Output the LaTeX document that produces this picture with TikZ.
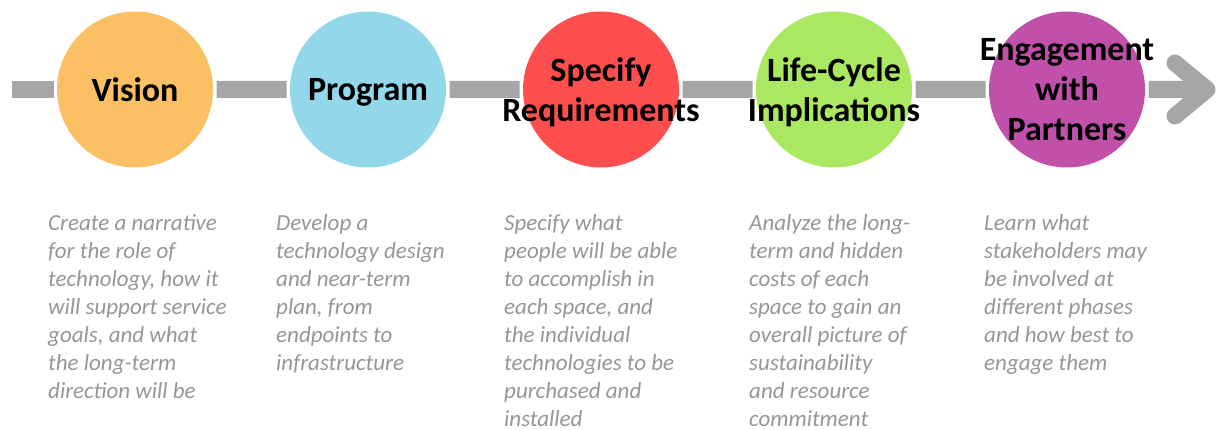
\documentclass[tikz,border=0pt]{standalone}
\usepackage{fontspec}
\setmainfont{Carlito}
\definecolor{visionorange}{RGB}{251,192,99}
\definecolor{programblue}{RGB}{147,215,234}
\definecolor{specifyred}{RGB}{254,78,78}
\definecolor{lifegreen}{RGB}{171,232,98}
\definecolor{engagepurple}{RGB}{192,80,170}
\definecolor{linegray}{RGB}{166,166,166}
\definecolor{textgray}{RGB}{150,150,150}

\begin{document}
\begin{tikzpicture}[
    x=1pt, y=1pt,
    grow=right,
    level distance=233pt,
    edge from parent/.style={draw=linegray, line width=17pt,
        shorten >=3.5pt, shorten <=3.5pt},
    edge from parent path={(\tikzparentnode.east) -- (\tikzchildnode.west)},
    flowline/.style={draw=linegray, line width=17pt},
    stage/.style={circle, minimum size=156pt, inner sep=0pt, outer sep=0pt},
    stagetext/.style={align=center, inner sep=0pt, text=black, text depth=0pt,
        font=\fontsize{34}{40}\selectfont\bfseries},
    note/.style={anchor=north west, inner sep=0pt, align=left, text=textgray,
        font=\fontsize{23}{28}\selectfont\itshape}
    ]
\useasboundingbox (0,0) rectangle (1219,-430);

\node[stage, fill=visionorange, label={[stagetext]center:Vision}]
    (vision) at (135,-89.5) {}
    %step 2
    child {
        node[stage, fill=programblue, label={[stagetext]center:Program}]
            (program) {}
        %step 3
        child {
            node[stage, fill=specifyred,
                label={[stagetext]center:Specify\\Requirements}] (specify) {}
            %step 4
            child {
                node[stage, fill=lifegreen,
                    label={[stagetext]center:Life-Cycle\\Implications}] (life) {}
                %step 5
                child {
                    node[stage, fill=engagepurple,
                        label={[stagetext]center:Engagement\\with\\Partners}] (engage) {}
                }
            }
        }
    };

%line ends
\coordinate (linestart) at (12,-89.5);
\coordinate (linetip) at (1207,-89.5);
\draw[flowline, shorten >=3.5pt] (linestart) -- (vision.west);
\draw[flowline, shorten <=3.5pt] (engage.east) -- (linetip);
\draw[flowline, line cap=round, line join=round]
    ([shift={(-32,26.5)}]linetip) -- (linetip) -- ([shift={(-32,-26.5)}]linetip);

%notes under the steps
\node[note] (visionnote) at ([xshift=-87pt, yshift=-125pt]vision.center)
    {Create a narrative\\for the role of\\technology, how it\\will support service\\goals, and what\\the long-term\\direction will be};
\node[note] (programnote) at ([xshift=-92pt, yshift=-125pt]program.center)
    {Develop a\\technology design\\and near-term\\plan, from\\endpoints to\\infrastructure};
\node[note] (specifynote) at ([xshift=-97pt, yshift=-125pt]specify.center)
    {Specify what\\people will be able\\to accomplish in\\each space, and\\the individual\\technologies to be\\purchased and\\installed};
\node[note] (lifenote) at ([xshift=-85pt, yshift=-125pt]life.center)
    {Analyze the long-\\term and hidden\\costs of each\\space to gain an\\overall picture of\\sustainability\\and resource\\commitment};
\node[note] (engagenote) at ([xshift=-83pt, yshift=-125pt]engage.center)
    {Learn what\\stakeholders may\\be involved at\\different phases\\and how best to\\engage them};
\end{tikzpicture}
\end{document}
